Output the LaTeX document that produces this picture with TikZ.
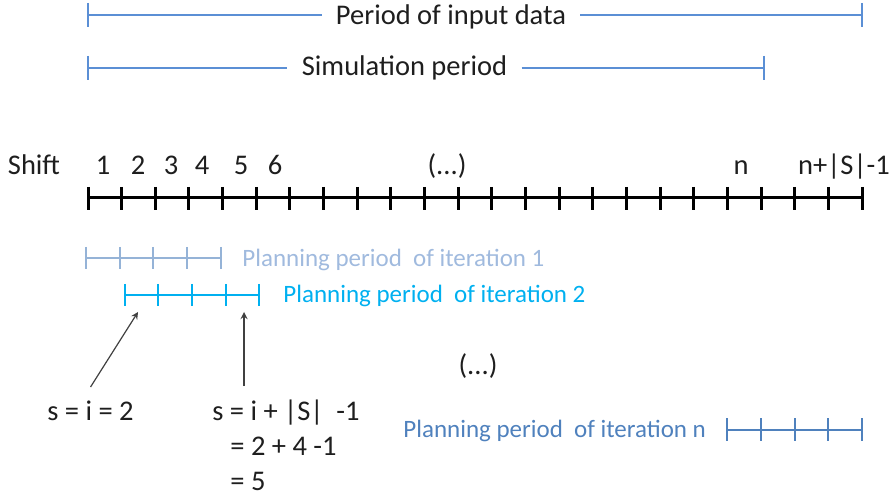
\documentclass[tikz,border=0pt]{standalone}
\usepackage{fontspec}
\setmainfont{Carlito}
\usetikzlibrary{arrows}
\definecolor{datablue}{RGB}{91,143,213}
\definecolor{iterone}{RGB}{149,179,215}
\definecolor{iteronetext}{RGB}{160,186,222}
\definecolor{itertwo}{RGB}{0,176,240}
\definecolor{itern}{RGB}{79,129,189}
\definecolor{textgray}{RGB}{30,30,30}
\newcommand{\bigfont}{\fontsize{14.25pt}{17.5pt}\selectfont}
\newcommand{\planfont}{\fontsize{12.5pt}{15pt}\selectfont}
\tikzstyle{timeline}  = [line width=1.5pt, black]
\tikzstyle{bracket}   = [line width=1.4pt, datablue]
\tikzstyle{iterbar}   = [line width=1.3pt]
\tikzstyle{shiftlabel} = [inner sep=0pt, anchor=base, text=textgray, font=\bigfont]
\tikzstyle{planlabel} = [inner sep=0pt, anchor=base west, font=\planfont]
\tikzstyle{pointer}   = [->, >=stealth, line width=0.6pt, draw=black!75]

\begin{document}
\begin{tikzpicture}[x=0.5pt, y=-0.5pt]
\useasboundingbox (0,0) rectangle (893,496);

% periods on top
\node[shiftlabel, inner xsep=7pt] (data) at (451,25) {Period of input data};
\coordinate (D0) at (88,15);
\coordinate (D1) at (862,15);
\draw[bracket] (D0) -- (data.west |- D0);
\draw[bracket] (data.east |- D1) -- (D1);
\draw[bracket] (88,3) -- (88,27);
\draw[bracket] (862,3) -- (862,27);

\node[shiftlabel, inner xsep=7pt] (sim) at (404.5,76) {Simulation period};
\coordinate (S0) at (88,68);
\coordinate (S1) at (764,68);
\draw[bracket] (S0) -- (sim.west |- S0);
\draw[bracket] (sim.east |- S1) -- (S1);
\draw[bracket] (88,56) -- (88,80);
\draw[bracket] (764,56) -- (764,80);

% shifts
\node[shiftlabel] (shift) at (34,175) {Shift};
\foreach \x/\t [count=\c] in {103/1, 138/2, 171/3, 202/4, 241/5, 275/6}
  \node[shiftlabel] (num\c) at (\x,175) {\t};
\node[shiftlabel] (dotsA) at (447,175) {(...)};
\node[shiftlabel] (numN) at (741,175) {n};
\node[shiftlabel] (numE) at (844,175) {n+|S|-1};

\draw[timeline] (88,198) -- (862,198);
\foreach \k in {0,...,23}
  \draw[timeline] ({88+\k*33.652},187) -- ({88+\k*33.652},210);

% iteration 1
\draw[iterbar, iterone] (86,258) -- (221,258);
\foreach \x in {86,120,153,187,221}
  \draw[iterbar, iterone] (\x,247) -- (\x,269);
\node[planlabel, text=iteronetext] (plan1) at (242,267) {Planning period\ \ of iteration 1};

% iteration 2
\draw[iterbar, itertwo] (125,295) -- (259,295);
\foreach \x in {125,158,192,226,259}
  \draw[iterbar, itertwo] (\x,284) -- (\x,306);
\node[planlabel, text=itertwo] (plan2) at (283,303) {Planning period\ \ of iteration 2};

\node[shiftlabel] (dotsB) at (478,374) {(...)};

% iteration n
\draw[iterbar, itern] (727,430) -- (862,430);
\foreach \x in {727,761,795,828,862}
  \draw[iterbar, itern] (\x,418) -- (\x,441);
\node[planlabel, text=itern] (plann) at (403,437) {Planning period\ \ of iteration n};

% s values
\node[shiftlabel, anchor=base west, inner ysep=6.5pt] (first) at (47,420) {s = i = 2};
\node[shiftlabel, anchor=base west, inner ysep=6.5pt] (last) at (212,420) {s = i + |S|\ \ -1};
\node[shiftlabel, anchor=base west] (lastB) at (230,455) {= 2 + 4 -1};
\node[shiftlabel, anchor=base west] (lastC) at (230,490) {= 5};

\coordinate (T1) at (138,312);
\coordinate (T2) at (244,312);
\draw[pointer] (first.north) -- (T1);
\draw[pointer] (last.north -| T2) -- (T2);

\end{tikzpicture}
\end{document}
